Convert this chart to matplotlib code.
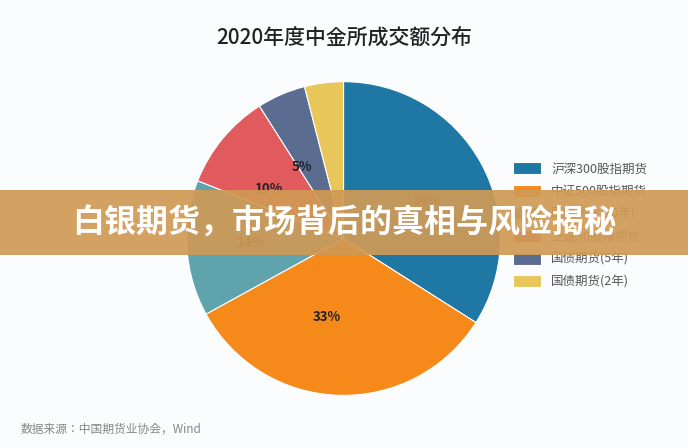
import matplotlib
matplotlib.use("Agg")
import matplotlib.pyplot as plt
from matplotlib.patches import Rectangle
from matplotlib import font_manager

names = {f.name for f in font_manager.fontManager.ttflist}
cjk = [n for n in ["Noto Sans CJK SC", "Noto Sans CJK JP", "Noto Sans CJK TC", "Noto Sans CJK KR"] if n in names]
plt.rcParams["font.family"] = "sans-serif"
plt.rcParams["font.sans-serif"] = cjk + ["DejaVu Sans"]

labels = ["沪深300股指期货", "中证500股指期货", "国债期货(10年)", "上证50股指期货", "国债期货(5年)", "国债期货(2年)"]
values = [34, 33, 14, 10, 5, 4]
colors = ["#1f77a4", "#f5891a", "#5fa3ad", "#e05a5e", "#5a6d91", "#e8c65a"]

fig = plt.figure(figsize=(6.88, 4.48), dpi=100)
fig.patch.set_facecolor("#fbfcfe")
ax = fig.add_axes([0.4993 - 0.228, 0.4676 - 0.3505, 0.456, 0.701])
wedges, texts = ax.pie(values, colors=colors, startangle=90, counterclock=False,
                       labels=[f"{v}%" if v >= 5 else "" for v in values], labeldistance=0.5,
                       wedgeprops=dict(edgecolor="white", linewidth=0.8),
                       textprops=dict(fontsize=9.5, fontweight="bold", color="#222222"))
ax.set_xlim(-1, 1)
ax.set_ylim(-1, 1)
ax.set_aspect("equal")
fig.text(0.5, 0.915, "2020年度中金所成交额分布", ha="center", va="center", fontsize=15,
         fontweight="medium", color="#222222")
fig.legend(wedges, labels, loc="center left", bbox_to_anchor=(0.73, 0.497), frameon=False,
           fontsize=9, handlelength=2.2, handleheight=1.1, labelspacing=0.75, labelcolor="#555555")
fig.text(0.03, 0.035, "数据来源：中国期货业协会，Wind", fontsize=8.5, color="#888888")
fig.patches.append(Rectangle((0, 0.43), 1, 0.145, transform=fig.transFigure,
                             facecolor="#d09a55", alpha=0.92, zorder=10))
fig.text(0.5, 0.5, "白银期货，市场背后的真相与风险揭秘", ha="center", va="center",
         fontsize=23, fontweight="bold", color="white", zorder=11)
fig.savefig("out.png", dpi=100, facecolor=fig.get_facecolor())
